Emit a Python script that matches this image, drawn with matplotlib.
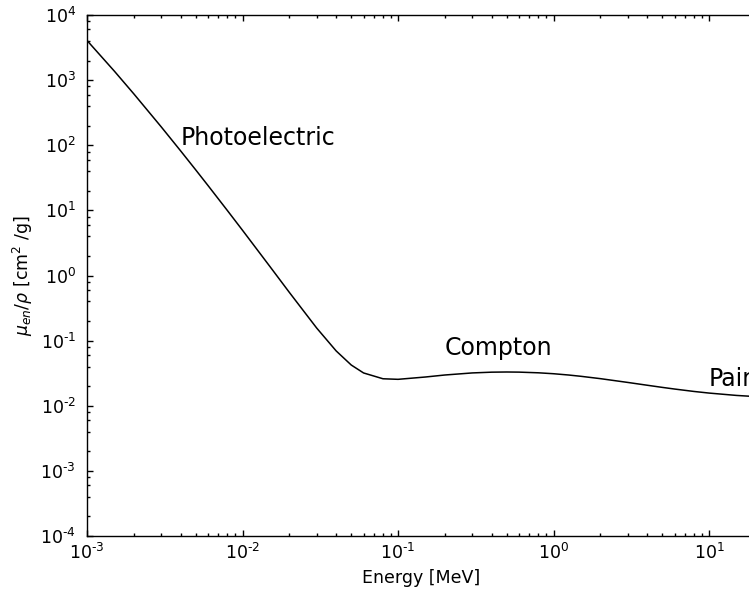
#!/usr/bin/env python3
# Mass energy-absorption coefficient of water vs photon energy

import math
import matplotlib
matplotlib.use("Agg")
import matplotlib.pyplot as plt
from matplotlib.ticker import LogLocator, FuncFormatter, NullFormatter

plt.rcParams["font.family"] = ["DejaVu Sans"]
plt.rcParams["mathtext.fontset"] = "dejavusans"

# photon energy [MeV]
energy = [1.0e-3, 1.5e-3, 2.0e-3, 3.0e-3, 4.0e-3, 5.0e-3, 6.0e-3, 8.0e-3,
          1.0e-2, 1.5e-2, 2.0e-2, 3.0e-2, 4.0e-2, 5.0e-2, 6.0e-2, 8.0e-2,
          1.0e-1, 1.5e-1, 2.0e-1, 3.0e-1, 4.0e-1, 5.0e-1, 6.0e-1, 8.0e-1,
          1.0, 1.25, 1.5, 2.0, 3.0, 4.0, 5.0, 6.0, 8.0, 10.0, 15.0, 20.0]

# mu_en / rho [cm^2/g]
mu_en = [4065., 1372., 615.2, 191.7, 81.91, 41.88, 24.05, 9.915,
         4.944, 1.374, 0.5503, 0.1557, 0.06947, 0.04223, 0.03190, 0.02597,
         0.02546, 0.02764, 0.02967, 0.03192, 0.03279, 0.03299, 0.03284, 0.03206,
         0.03103, 0.02965, 0.02833, 0.02608, 0.02281, 0.02066, 0.01915, 0.01806,
         0.01658, 0.01566, 0.01441, 0.01382]

# region labels: (x, y, text)
regions = [(4e-3, 100, "Photoelectric"),
           (0.2, 0.06, "Compton"),
           (10, 0.02, "Pair")]

fontsize = 12.5


def sci_label(v, pos):
    exp = int(round(math.log10(v)))
    s = str(exp).replace("-", "\u2010")
    return r"$10^{%s}$" % s


fig = plt.figure(figsize=(7.49, 5.92), dpi=100)
# axes run slightly past the right edge of the canvas
ax = fig.add_axes([0.1162, 0.0946, 0.893, 0.880])

ax.plot(energy, mu_en, color="black", linewidth=1.1)

ax.set_xscale("log")
ax.set_yscale("log")
ax.set_xlim(1e-3, 20)
ax.set_ylim(1e-4, 1e4)

ax.xaxis.set_major_locator(LogLocator(base=10, numticks=20))
ax.xaxis.set_minor_locator(LogLocator(base=10, subs=range(2, 10), numticks=20))
ax.yaxis.set_major_locator(LogLocator(base=10, numticks=20))
ax.yaxis.set_minor_locator(LogLocator(base=10, subs=[2, 4, 6, 8], numticks=20))
ax.xaxis.set_major_formatter(FuncFormatter(sci_label))
ax.yaxis.set_major_formatter(FuncFormatter(sci_label))
ax.xaxis.set_minor_formatter(NullFormatter())
ax.yaxis.set_minor_formatter(NullFormatter())

ax.tick_params(which="both", direction="in", top=True, right=True,
               labelsize=fontsize, width=1.0)
ax.tick_params(which="major", length=4)
ax.tick_params(which="minor", length=2)
ax.tick_params(axis="x", pad=5)
ax.tick_params(axis="y", pad=8)

for sp in ax.spines.values():
    sp.set_linewidth(1.0)

for x, y, t in regions:
    ax.text(x, y, t, fontsize=17, va="baseline", ha="left")

ax.set_xlabel("Energy [MeV]", fontsize=fontsize, labelpad=4)
ax.set_ylabel(r"$\mu_{en}/\rho$ [cm$^2$ /g]", fontsize=fontsize, labelpad=4)

plt.savefig("out.png", dpi=100)
